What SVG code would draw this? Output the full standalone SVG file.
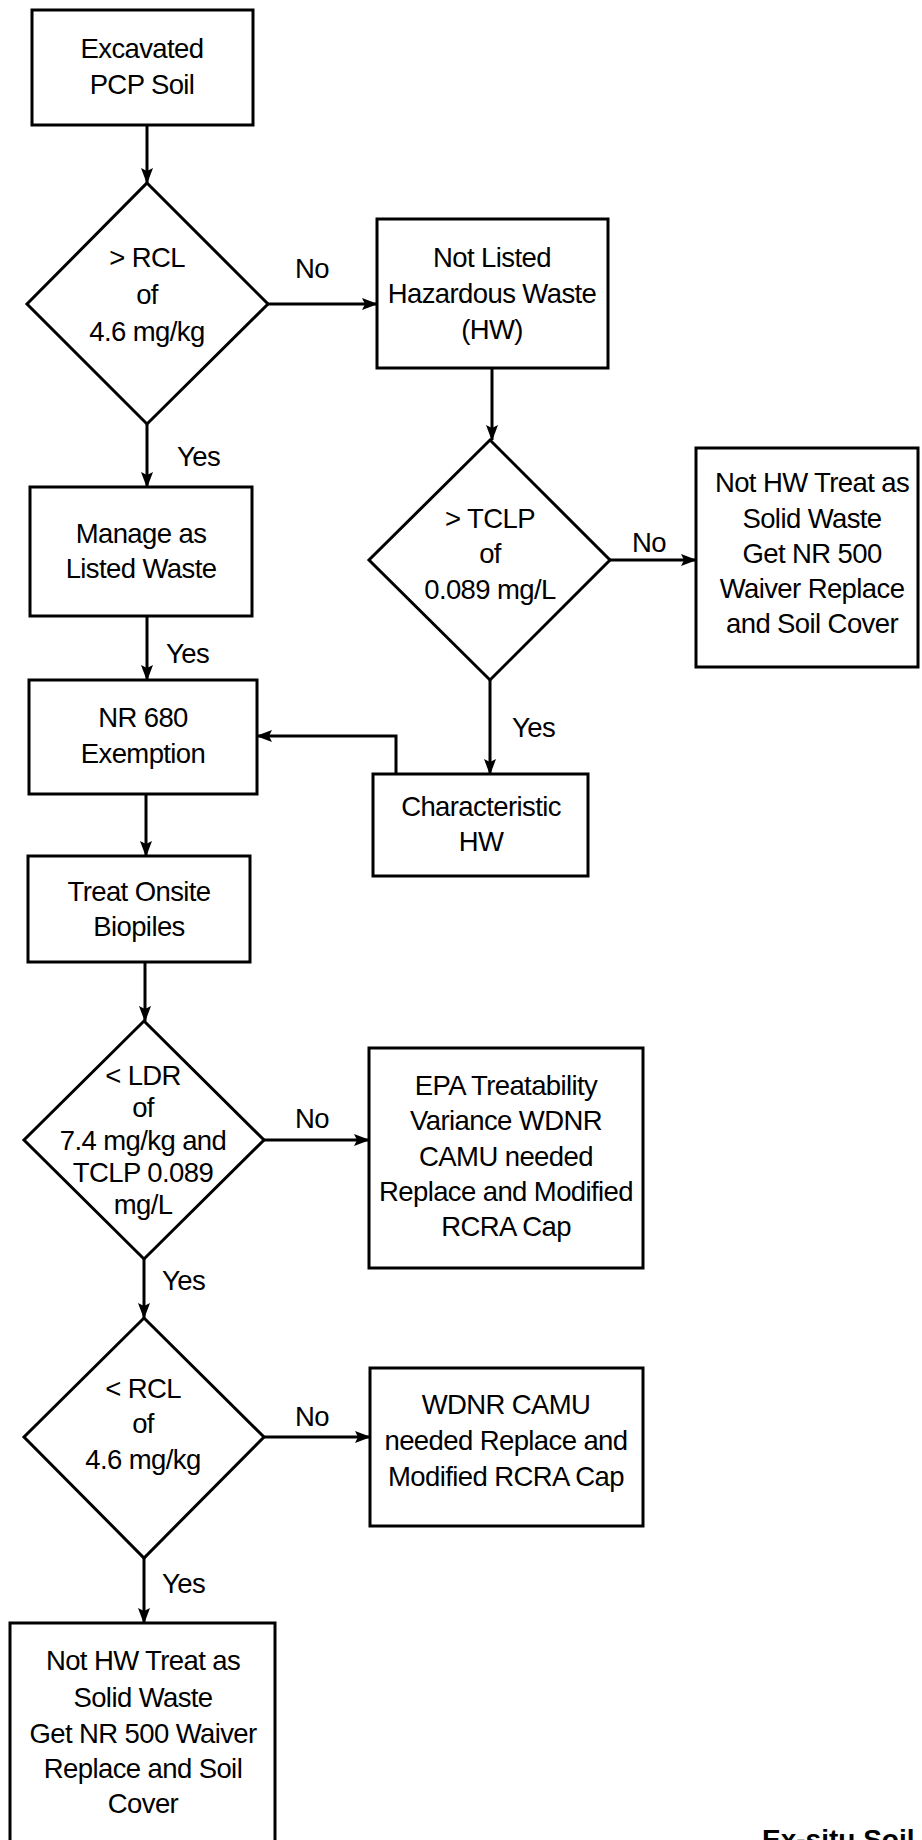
<svg xmlns="http://www.w3.org/2000/svg" width="922" height="1840" viewBox="0 0 922 1840">
<style>
.n{fill:#fff;stroke:#000;stroke-width:3}
.t{font-family:"Liberation Sans",Arial,sans-serif;font-size:27.5px;letter-spacing:-0.6px;fill:#000;text-anchor:middle}
.l{font-family:"Liberation Sans",Arial,sans-serif;font-size:27.5px;letter-spacing:-0.6px;fill:#000}
.c{fill:none;stroke:#000;stroke-width:3;marker-end:url(#ah)}
.ttl{font-family:"Liberation Sans",Arial,sans-serif;font-size:28px;font-weight:bold;fill:#000}
</style>
<defs>
<marker id="ah" viewBox="0 0 16 12" refX="15" refY="6" markerWidth="16" markerHeight="12" markerUnits="userSpaceOnUse" orient="auto">
<path d="M0,0 L16,6 L0,12 L3,6 z" fill="#000"/>
</marker>
</defs>
<rect width="922" height="1840" fill="#fff"/>
<g id="connectors">
<path class="c" d="M147,125 V183"/>
<path class="c" d="M268,304 H377"/>
<path class="c" d="M147,424 V487"/>
<path class="c" d="M492,368 V440"/>
<path class="c" d="M610,560 H696"/>
<path class="c" d="M490,680 V774"/>
<path class="c" d="M147,616 V680"/>
<path class="c" d="M396,774 V736 H257"/>
<path class="c" d="M146,794 V856"/>
<path class="c" d="M145,962 V1021"/>
<path class="c" d="M263,1140 H369"/>
<path class="c" d="M144,1259 V1318"/>
<path class="c" d="M263,1437 H370"/>
<path class="c" d="M144,1558 V1623"/>
<text class="t" x="312" y="278">No</text>
<text class="l" x="177" y="466">Yes</text>
<text class="l" x="166" y="663">Yes</text>
<text class="t" x="649" y="552">No</text>
<text class="l" x="512" y="737">Yes</text>
<text class="t" x="312" y="1128">No</text>
<text class="l" x="162" y="1290">Yes</text>
<text class="t" x="312" y="1426">No</text>
<text class="l" x="162" y="1593">Yes</text>
</g>
<g id="excavated">
<rect class="n" x="32" y="10" width="221" height="115"/>
<text class="t" x="142" y="58">Excavated</text>
<text class="t" x="142" y="94">PCP Soil</text>
</g>
<g id="rcl1">
<polygon class="n" points="147,183 268,304 147,424 27,304"/>
<text class="t" x="147" y="267">&gt; RCL</text>
<text class="t" x="147" y="304">of</text>
<text class="t" x="147" y="341">4.6 mg/kg</text>
</g>
<g id="notlisted">
<rect class="n" x="377" y="219" width="231" height="149"/>
<text class="t" x="492" y="267">Not Listed</text>
<text class="t" x="492" y="303">Hazardous Waste</text>
<text class="t" x="492" y="339">(HW)</text>
</g>
<g id="tclp">
<polygon class="n" points="490,440 610,560 490,680 369,560"/>
<text class="t" x="490" y="528">&gt; TCLP</text>
<text class="t" x="490" y="563">of</text>
<text class="t" x="490" y="599">0.089 mg/L</text>
</g>
<g id="nothw1">
<rect class="n" x="696" y="448" width="222" height="219"/>
<text class="t" x="812" y="492">Not HW Treat as</text>
<text class="t" x="812" y="528">Solid Waste</text>
<text class="t" x="812" y="563">Get NR 500</text>
<text class="t" x="812" y="598">Waiver Replace</text>
<text class="t" x="812" y="633">and Soil Cover</text>
</g>
<g id="manage">
<rect class="n" x="30" y="487" width="222" height="129"/>
<text class="t" x="141" y="543">Manage as</text>
<text class="t" x="141" y="578">Listed Waste</text>
</g>
<g id="nr680">
<rect class="n" x="29" y="680" width="228" height="114"/>
<text class="t" x="143" y="727">NR 680</text>
<text class="t" x="143" y="763">Exemption</text>
</g>
<g id="characteristic">
<rect class="n" x="373" y="774" width="215" height="102"/>
<text class="t" x="481" y="816">Characteristic</text>
<text class="t" x="481" y="851">HW</text>
</g>
<g id="treat">
<rect class="n" x="28" y="856" width="222" height="106"/>
<text class="t" x="139" y="901">Treat Onsite</text>
<text class="t" x="139" y="936">Biopiles</text>
</g>
<g id="ldr">
<polygon class="n" points="144,1021 264,1140 144,1259 24,1140"/>
<text class="t" x="143" y="1085">&lt; LDR</text>
<text class="t" x="143" y="1117">of</text>
<text class="t" x="143" y="1150">7.4 mg/kg and</text>
<text class="t" x="143" y="1182">TCLP 0.089</text>
<text class="t" x="143" y="1214">mg/L</text>
</g>
<g id="epa">
<rect class="n" x="369" y="1048" width="274" height="220"/>
<text class="t" x="506" y="1095">EPA Treatability</text>
<text class="t" x="506" y="1130">Variance WDNR</text>
<text class="t" x="506" y="1166">CAMU needed</text>
<text class="t" x="506" y="1201">Replace and Modified</text>
<text class="t" x="506" y="1236">RCRA Cap</text>
</g>
<g id="rcl2">
<polygon class="n" points="144,1318 264,1437 144,1558 24,1437"/>
<text class="t" x="143" y="1398">&lt; RCL</text>
<text class="t" x="143" y="1433">of</text>
<text class="t" x="143" y="1469">4.6 mg/kg</text>
</g>
<g id="wdnr">
<rect class="n" x="370" y="1368" width="273" height="158"/>
<text class="t" x="506" y="1414">WDNR CAMU</text>
<text class="t" x="506" y="1450">needed Replace and</text>
<text class="t" x="506" y="1486">Modified RCRA Cap</text>
</g>
<g id="nothw2">
<rect class="n" x="10" y="1623" width="265" height="240"/>
<text class="t" x="143" y="1670">Not HW Treat as</text>
<text class="t" x="143" y="1707">Solid Waste</text>
<text class="t" x="143" y="1743">Get NR 500 Waiver</text>
<text class="t" x="143" y="1778">Replace and Soil</text>
<text class="t" x="143" y="1813">Cover</text>
</g>
<g id="title">
<text class="ttl" x="762" y="1849">Ex-situ Soil</text>
</g>
</svg>
